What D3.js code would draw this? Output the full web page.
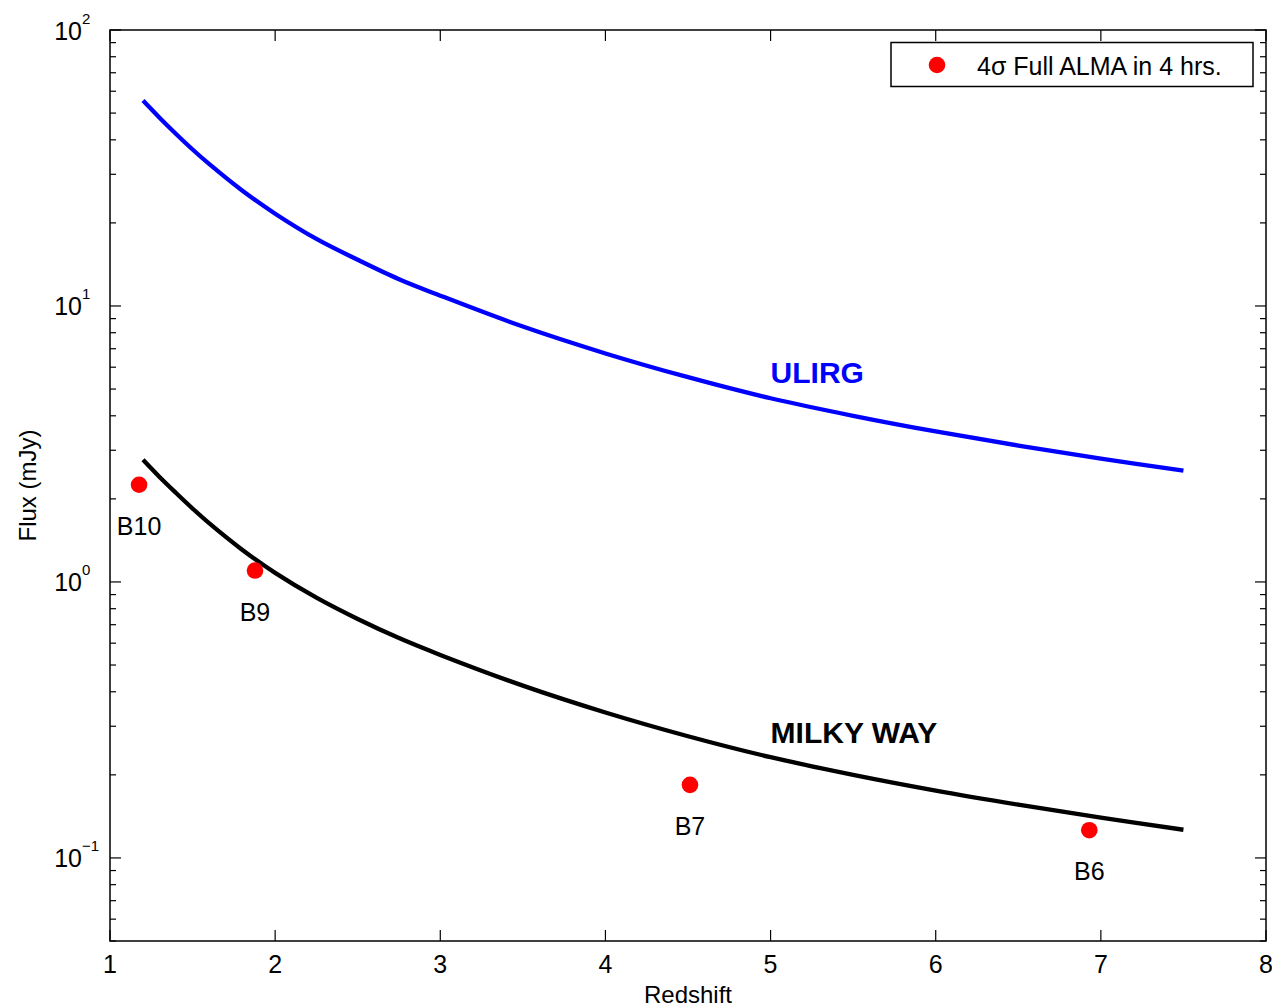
<!DOCTYPE html>
<html>
<head>
<meta charset="utf-8">
<script src="https://cdn.jsdelivr.net/npm/d3@7"></script>
<style>
  body { margin: 0; background: #fff; }
  svg { display: block; font-family: "Liberation Sans", Arial, Helvetica, sans-serif; }
</style>
</head>
<body>
<div id="chart"></div>
<script>
// curves
const redshift = [1.2, 1.3, 1.4, 1.5, 1.6, 1.8, 2.0, 2.25, 2.5, 2.75, 3, 3.5, 4, 4.5, 5, 5.5, 6, 6.5, 7, 7.5];
const ulirgFlux = [55.5, 48.1, 42.0, 36.9, 32.7, 26.2, 21.6, 17.5, 14.7, 12.5, 10.9, 8.42, 6.73, 5.52, 4.63, 4.00, 3.51, 3.12, 2.80, 2.53];
const milkyWayFlux = [2.77, 2.40, 2.10, 1.845, 1.633, 1.309, 1.079, 0.877, 0.734, 0.626, 0.544, 0.421, 0.3365, 0.276, 0.2317, 0.200, 0.1754, 0.156, 0.140, 0.1265];

// ALMA band points
const bandNames = ['B10', 'B9', 'B7', 'B6'];
const bandRedshift = [1.176, 1.878, 4.512, 6.93];
const bandFlux = [2.25, 1.10, 0.184, 0.126];

const xTicks = [1, 2, 3, 4, 5, 6, 7, 8];
const yDecades = [0.1, 1, 10, 100];
const yExponents = ['\u22121', '0', '1', '2'];
const legendText = '4\u03c3 Full ALMA in 4 hrs.';

const width = 1272, height = 1008;
const margin = { left: 110, right: 6, top: 30, bottom: 67 };

const x = d3.scaleLinear().domain([1, 8]).range([margin.left, width - margin.right]);
const y = d3.scaleLog().domain([0.05, 100]).range([height - margin.bottom, margin.top]);

const svg = d3.select('#chart').append('svg')
  .attr('width', width)
  .attr('height', height);

const x0 = x.range()[0], x1 = x.range()[1];
const y0 = y.range()[0], y1 = y.range()[1];

// minor y ticks 2..9 of each decade
let minorY = [];
[0.01, 0.1, 1, 10].forEach(d => {
  for (let k = 2; k <= 9; k++) {
    const v = d * k;
    if (v >= 0.05 && v < 100) minorY.push(v);
  }
});

const ticks = svg.append('g').attr('stroke', '#000').attr('stroke-width', 1.2);

xTicks.forEach(t => {
  ticks.append('line').attr('x1', x(t)).attr('x2', x(t)).attr('y1', y0).attr('y2', y0 - 11);
  ticks.append('line').attr('x1', x(t)).attr('x2', x(t)).attr('y1', y1).attr('y2', y1 + 11);
});
yDecades.forEach(t => {
  ticks.append('line').attr('x1', x0).attr('x2', x0 + 11).attr('y1', y(t)).attr('y2', y(t));
  ticks.append('line').attr('x1', x1).attr('x2', x1 - 11).attr('y1', y(t)).attr('y2', y(t));
});
minorY.forEach(t => {
  ticks.append('line').attr('x1', x0).attr('x2', x0 + 6).attr('y1', y(t)).attr('y2', y(t));
  ticks.append('line').attr('x1', x1).attr('x2', x1 - 6).attr('y1', y(t)).attr('y2', y(t));
});

// frame
svg.append('rect')
  .attr('x', x0).attr('y', y1)
  .attr('width', x1 - x0).attr('height', y0 - y1)
  .attr('fill', 'none').attr('stroke', '#000').attr('stroke-width', 1.5);

// tick labels
svg.selectAll('.xlab').data(xTicks).enter().append('text')
  .attr('class', 'xlab')
  .attr('x', d => x(d)).attr('y', y0 + 32)
  .attr('text-anchor', 'middle')
  .attr('font-size', 25)
  .text(d => d);

yDecades.forEach((d, i) => {
  svg.append('text')
    .attr('x', x0 - 28).attr('y', y(d) + 9.5)
    .attr('text-anchor', 'end')
    .attr('font-size', 25)
    .text('10');
  svg.append('text')
    .attr('x', x0 - 28).attr('y', y(d) - 6.5)
    .attr('font-size', 15)
    .text(yExponents[i]);
});

// axis titles
svg.append('text')
  .attr('x', (x0 + x1) / 2).attr('y', 1003)
  .attr('text-anchor', 'middle')
  .attr('font-size', 24)
  .text('Redshift');

svg.append('text')
  .attr('transform', 'translate(36,' + (y0 + y1) / 2 + ') rotate(-90)')
  .attr('text-anchor', 'middle')
  .attr('font-size', 24)
  .text('Flux (mJy)');

// curves
const line = d3.line()
  .x(d => x(d[0]))
  .y(d => y(d[1]))
  .curve(d3.curveCatmullRom.alpha(0.5));

svg.append('path')
  .datum(d3.zip(redshift, ulirgFlux))
  .attr('d', line)
  .attr('fill', 'none')
  .attr('stroke', '#0000ff')
  .attr('stroke-width', 4.3);

svg.append('path')
  .datum(d3.zip(redshift, milkyWayFlux))
  .attr('d', line)
  .attr('fill', 'none')
  .attr('stroke', '#000')
  .attr('stroke-width', 4.3);

svg.append('text')
  .attr('x', x(5.0)).attr('y', y(5.28))
  .attr('font-size', 30).attr('font-weight', 'bold')
  .attr('fill', '#0000ff')
  .text('ULIRG');

svg.append('text')
  .attr('x', x(5.0)).attr('y', y(0.261))
  .attr('font-size', 30).attr('font-weight', 'bold')
  .attr('fill', '#000')
  .text('MILKY WAY');

// band points
const bands = d3.zip(bandNames, bandRedshift, bandFlux);

svg.selectAll('.band').data(bands).enter().append('circle')
  .attr('class', 'band')
  .attr('cx', d => x(d[1]))
  .attr('cy', d => y(d[2]))
  .attr('r', 8.3)
  .attr('fill', '#ff0000');

svg.selectAll('.bandlab').data(bands).enter().append('text')
  .attr('class', 'bandlab')
  .attr('x', d => x(d[1]))
  .attr('y', d => y(d[2]) + 50)
  .attr('text-anchor', 'middle')
  .attr('font-size', 25)
  .text(d => d[0]);

// legend
const legend = svg.append('g').attr('transform', 'translate(891,42.5)');
legend.append('rect')
  .attr('width', 362).attr('height', 44)
  .attr('fill', '#fff').attr('stroke', '#000').attr('stroke-width', 1.5);
legend.append('circle')
  .attr('cx', 46).attr('cy', 22.5).attr('r', 8.3)
  .attr('fill', '#ff0000');
legend.append('text')
  .attr('x', 86).attr('y', 32)
  .attr('font-size', 25)
  .text(legendText);
</script>
</body>
</html>
